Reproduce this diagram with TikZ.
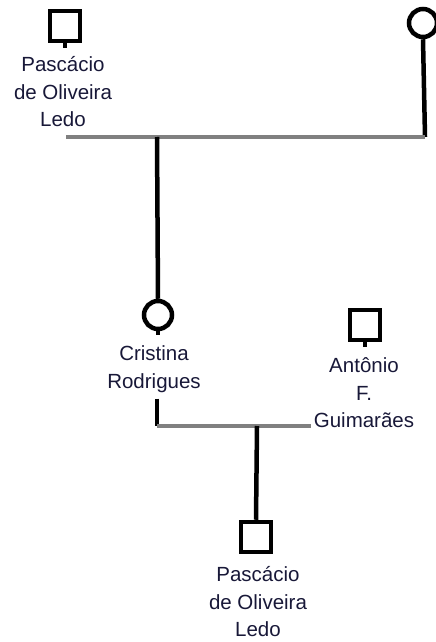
\documentclass[tikz,border=0pt]{standalone}
\usepackage{fontspec}
\setmainfont{Liberation Sans}
\usetikzlibrary{positioning}
\definecolor{namecolor}{RGB}{24,24,56}
\tikzstyle{male} = [draw, rectangle, line width=4.5pt, minimum size=30pt, inner sep=0pt]
\tikzstyle{female} = [draw, circle, line width=4.5pt, minimum size=28pt, inner sep=0pt]
\tikzstyle{person} = [align=center, inner sep=0pt, text=namecolor, font=\fontsize{20.5}{27.5}\selectfont]
\tikzstyle{kin} = [draw, line width=4.5pt, black]
\tikzstyle{union} = [draw, line width=4.5pt, gray]

\begin{document}
\begin{tikzpicture}[x=1pt, y=-1pt]
            \useasboundingbox (0,0) rectangle (436,642);
                % parents
                \node [male] (pascacioA) at (65,26) {};
                \node [person] (pascacioAname) at (63,92) {Pascácio\\de Oliveira\\Ledo};
                \node [female] (motherA) at (423,23) {};
                \coordinate (unionAleft) at (66,137);
                \coordinate (unionAright) at (425,137);
                \coordinate (unionAdrop) at (157,137);
                % second generation
                \node [female] (cristina) at (158,315) {};
                \node [person] (cristinaname) at (154,369) {Cristina\\Rodrigues};
                \node [male] (antonio) at (365,325) {};
                \node [person] (antonioname) at (364,393) {Antônio\\F.\\Guimarães};
                \coordinate (unionBleft) at (157,426);
                \coordinate (unionBright) at (311,426);
                \coordinate (unionBdrop) at (257,426);
                % child
                \node [male] (pascacioB) at (256,537) {};
                \node [person] (pascacioBname) at (258,602) {Pascácio\\de Oliveira\\Ledo};
                % lines
                \path [kin] (pascacioA.south) -- ++(0,5);
                \path [kin] (antonio.south) -- ++(0,5);
                \path [kin] (motherA.south) -- (unionAright);
                \path [union] (unionAleft) -- (unionAright);
                \path [kin] (unionAdrop) -- (cristina.north);
                \path [kin] (cristina.south) -- ++(0,4);
                \path [kin] (cristinaname.south -| unionBleft) ++(0,6) -- (unionBleft);
                \path [union] (unionBleft) -- (unionBright);
                \path [kin] (unionBdrop) -- (pascacioB.north);
            \end{tikzpicture}
\end{document}
